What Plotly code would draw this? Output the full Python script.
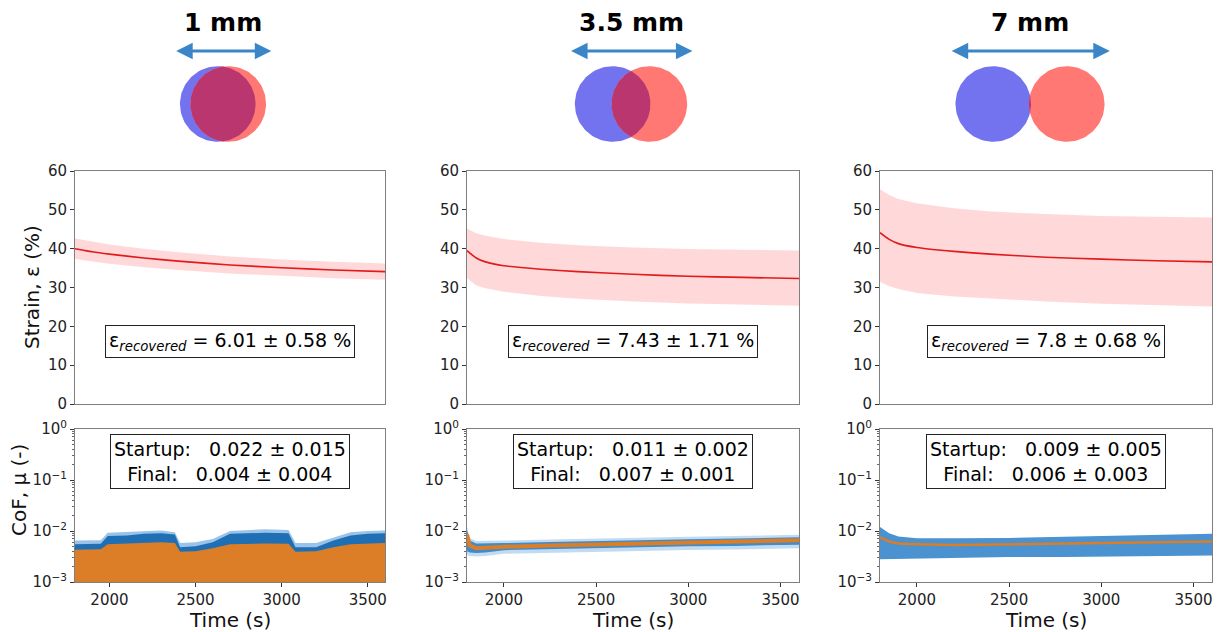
import numpy as np
import plotly.graph_objects as go

W, H = 1217, 632

# ---------------- data ----------------
gaps_mm = [1.0, 3.5, 7.0]
gap_labels = ["1 mm", "3.5 mm", "7 mm"]
recovered_text = ["6.01 ± 0.58 %", "7.43 ± 1.71 %", "7.8 ± 0.68 %"]
startup_text = ["0.022 ± 0.015", "0.011 ± 0.002", "0.009 ± 0.005"]
final_text = ["0.004 ± 0.004", "0.007 ± 0.001", "0.006 ± 0.003"]

strain_time = [1800, 1850, 1900, 2000, 2200, 2400, 2700, 3000, 3300, 3600]
strain_mean_1 = [40.0, 39.6, 39.2, 38.6, 37.6, 36.8, 35.8, 35.1, 34.5, 34.1]
strain_upper_1 = [42.6, 42.2, 41.8, 41.1, 40.0, 39.1, 38.0, 37.2, 36.6, 36.2]
strain_lower_1 = [37.4, 37.0, 36.6, 36.1, 35.2, 34.5, 33.6, 33.0, 32.4, 32.0]
strain_mean_2 = [39.5, 37.6, 36.6, 35.6, 34.7, 34.1, 33.4, 32.9, 32.6, 32.3]
strain_upper_2 = [45.2, 44.0, 43.3, 42.5, 41.5, 40.9, 40.3, 39.9, 39.7, 39.5]
strain_lower_2 = [32.4, 30.5, 29.8, 28.9, 27.8, 27.1, 26.4, 25.9, 25.6, 25.3]
strain_mean_3 = [44.1, 42.4, 41.3, 40.3, 39.3, 38.6, 37.8, 37.3, 36.9, 36.6]
strain_upper_3 = [55.3, 53.8, 52.8, 51.7, 50.4, 49.6, 48.9, 48.4, 48.2, 48.0]
strain_lower_3 = [31.5, 30.3, 29.6, 28.6, 27.7, 27.1, 26.4, 25.8, 25.4, 25.1]

# CoF panel 1: envelopes of the raw (blue) and filtered (orange) signals
cof1_time = [1800, 1950, 1990, 2100, 2200, 2300, 2380, 2410, 2500, 2600, 2700,
             2800, 2900, 3040, 3080, 3200, 3300, 3400, 3500, 3600]
cof1_halo_top = [0.0065, 0.0066, 0.0092, 0.0095, 0.0100, 0.0102, 0.0095, 0.0058, 0.0060, 0.0070,
                 0.0100, 0.0105, 0.0108, 0.0105, 0.0058, 0.0058, 0.0075, 0.0095, 0.0100, 0.0102]
cof1_blue_top = [0.0055, 0.0056, 0.0080, 0.0082, 0.0088, 0.0090, 0.0085, 0.0048, 0.0050, 0.0060,
                 0.0088, 0.0090, 0.0092, 0.0090, 0.0048, 0.0048, 0.0065, 0.0082, 0.0088, 0.0090]
cof1_orange_top = [0.0043, 0.0044, 0.0055, 0.0057, 0.0060, 0.0060, 0.0058, 0.0039, 0.0040, 0.0046,
                   0.0055, 0.0056, 0.0057, 0.0056, 0.0039, 0.0040, 0.0048, 0.0055, 0.0057, 0.0058]
cof1_floor = [0.0008] * len(cof1_time)

# CoF panel 2
cof2_time = [1800, 1815, 1850, 1900, 2000, 2250, 2500, 2750, 3000, 3250, 3500, 3600]
cof2_mean = [0.0085, 0.0052, 0.0046, 0.0047, 0.0049, 0.0052, 0.0054, 0.0057, 0.0059, 0.0062, 0.0065, 0.0066]
cof2_upper = [0.0105, 0.0065, 0.0057, 0.0057, 0.0058, 0.0061, 0.0064, 0.0066, 0.0069, 0.0071, 0.0074, 0.0075]
cof2_lower = [0.0040, 0.0038, 0.0037, 0.0038, 0.0042, 0.0044, 0.0046, 0.0048, 0.0050, 0.0051, 0.0053, 0.0054]

# CoF panel 3
cof3_time = [1800, 1850, 1900, 2000, 2200, 2500, 2800, 3000, 3300, 3600]
cof3_mean = [0.0075, 0.0062, 0.0057, 0.0055, 0.0053, 0.0055, 0.0057, 0.0058, 0.0060, 0.0062]
cof3_upper = [0.0120, 0.0090, 0.0078, 0.0072, 0.0072, 0.0073, 0.0077, 0.0080, 0.0084, 0.0088]
cof3_lower = [0.0028, 0.0028, 0.0029, 0.0029, 0.0030, 0.0031, 0.0031, 0.0032, 0.0032, 0.0033]

x_ticks = [2000, 2500, 3000, 3500]
cof_tickvals = [1e-3, 1e-2, 1e-1, 1]
cof_ticktext = ["10<sup>−3</sup>", "10<sup>−2</sup>", "10<sup>−1</sup>", "10<sup>0</sup>"]

# ---------------- styling / layout ----------------
FONT = "DejaVu Sans"
RED = "#e31a1c"
BAND = "rgba(255,120,120,0.28)"
BLUE_C = "#7373f0"
RED_C = "#ff7873"
OVER_C = "#b9376e"
ARROW_C = "#3a86c8"

def px_x(p):
    return p / W

def px_y(p):
    return 1 - p / H

panel_x = [(75, 385), (467, 799), (880, 1212)]
strain_y = (404, 171)
cof_y = (582, 429)

ill_center = [223, 631, 1030]
S = 10.5            # px per mm in the illustrations
R = 3.6             # circle radius (mm)
ILL_HALF = 110
ILL_CY = 104

fig = go.Figure()

def band(x, up, lo, color, xa, ya):
    fig.add_trace(go.Scatter(x=list(x) + list(x)[::-1], y=list(up) + list(lo)[::-1],
                             fill="toself", fillcolor=color, line=dict(width=0),
                             mode="lines", hoverinfo="skip", showlegend=False,
                             xaxis=xa, yaxis=ya))

strain_sets = [(strain_mean_1, strain_upper_1, strain_lower_1),
               (strain_mean_2, strain_upper_2, strain_lower_2),
               (strain_mean_3, strain_upper_3, strain_lower_3)]

for k, (m, u, l) in enumerate(strain_sets):
    xa, ya = f"x{k+1}", f"y{k+1}"
    band(strain_time, u, l, BAND, xa, ya)
    fig.add_trace(go.Scatter(x=strain_time, y=m, mode="lines",
                             line=dict(color=RED, width=1.6, shape="spline", smoothing=0.6),
                             showlegend=False, xaxis=xa, yaxis=ya))

# CoF panel 1
band(cof1_time, cof1_halo_top, cof1_floor, "rgba(120,175,225,0.75)", "x4", "y4")
band(cof1_time, cof1_blue_top, cof1_floor, "#1f6fb4", "x4", "y4")
band(cof1_time, cof1_orange_top, cof1_floor, "#dc7d28", "x4", "y4")

# CoF panel 2
band(cof2_time, [v * 1.12 for v in cof2_upper], [v * 0.85 for v in cof2_lower],
     "rgba(120,175,225,0.45)", "x5", "y5")
band(cof2_time, cof2_upper, cof2_lower, "#3d8ccc", "x5", "y5")
fig.add_trace(go.Scatter(x=cof2_time, y=cof2_mean, mode="lines", line=dict(color="#dc7d28", width=4),
                         showlegend=False, xaxis="x5", yaxis="y5"))

# CoF panel 3
band(cof3_time, cof3_upper, cof3_lower, "#4a93d0", "x6", "y6")
fig.add_trace(go.Scatter(x=cof3_time, y=cof3_mean, mode="lines", line=dict(color="#dc7d28", width=2.5),
                         showlegend=False, xaxis="x6", yaxis="y6"))

# illustrations
th = np.linspace(0, 2 * np.pi, 121)
for k, d in enumerate(gaps_mm):
    xa, ya = f"x{k+7}", f"y{k+7}"
    for cx, col in [(-d / 2, BLUE_C), (d / 2, RED_C)]:
        fig.add_trace(go.Scatter(x=cx + R * np.cos(th), y=R * np.sin(th), fill="toself",
                                 fillcolor=col, line=dict(width=0), mode="lines",
                                 hoverinfo="skip", showlegend=False, xaxis=xa, yaxis=ya))
    if d < 2 * R:
        a = np.arccos(d / (2 * R))
        t1 = np.linspace(-a, a, 60)
        t2 = np.linspace(np.pi - a, np.pi + a, 60)
        lx = np.concatenate([-d / 2 + R * np.cos(t1), d / 2 + R * np.cos(t2)])
        ly = np.concatenate([R * np.sin(t1), R * np.sin(t2)])
        fig.add_trace(go.Scatter(x=lx, y=ly, fill="toself", fillcolor=OVER_C, line=dict(width=0),
                                 mode="lines", hoverinfo="skip", showlegend=False, xaxis=xa, yaxis=ya))

layout = dict(width=W, height=H, autosize=False, margin=dict(l=0, r=0, t=0, b=0, pad=0),
              paper_bgcolor="white", plot_bgcolor="white", showlegend=False,
              font=dict(family=FONT, color="#222", size=15))

axis_common = dict(showline=True, linecolor="#7f7f7f", linewidth=1, mirror=True, automargin=False,
                   showgrid=False, zeroline=False, ticks="outside", ticklen=4,
                   tickcolor="#333", tickfont=dict(family=FONT, size=15, color="#222"))

for k in range(3):
    x0, x1 = panel_x[k]
    # strain
    layout[f"xaxis{k+1}"] = dict(axis_common, domain=[px_x(x0), px_x(x1)], range=[1800, 3600],
                                 showticklabels=False, ticks="", anchor=f"y{k+1}")
    layout[f"yaxis{k+1}"] = dict(axis_common, domain=[px_y(strain_y[0]), px_y(strain_y[1])],
                                 range=[0, 60], dtick=10, anchor=f"x{k+1}")
    # cof
    layout[f"xaxis{k+4}"] = dict(axis_common, domain=[px_x(x0), px_x(x1)], range=[1800, 3600],
                                 tickvals=x_ticks, anchor=f"y{k+4}")
    layout[f"yaxis{k+4}"] = dict(axis_common, domain=[px_y(cof_y[0]), px_y(cof_y[1])],
                                 type="log", range=[-3, 0], tickvals=cof_tickvals,
                                 ticktext=cof_ticktext, anchor=f"x{k+4}",
                                 minor=dict(dtick="D1", ticks="outside", ticklen=2,
                                            tickcolor="#666", showgrid=False))
    # illustration
    c = ill_center[k]
    layout[f"xaxis{k+7}"] = dict(domain=[px_x(c - ILL_HALF), px_x(c + ILL_HALF)], automargin=False,
                                 range=[-ILL_HALF / S, ILL_HALF / S], visible=False, anchor=f"y{k+7}")
    layout[f"yaxis{k+7}"] = dict(domain=[px_y(160), 1], range=[(ILL_CY - 160) / S, ILL_CY / S],
                                 automargin=False, visible=False, anchor=f"x{k+7}")

fig.update_layout(**layout)

ann = []
for k in range(3):
    d = gaps_mm[k]
    half = (d + 2 * R) / 2 + 0.5
    ay = (ILL_CY - 51) / S
    ann.append(dict(xref=f"x{k+7}", yref=f"y{k+7}", axref=f"x{k+7}", ayref=f"y{k+7}",
                    x=half, y=ay, ax=-half, ay=ay, text="", showarrow=True,
                    arrowside="end+start", arrowhead=2, arrowsize=1.1, arrowwidth=3,
                    arrowcolor=ARROW_C))
    ann.append(dict(xref=f"x{k+7}", yref=f"y{k+7}", x=0, y=(ILL_CY - 22) / S,
                    text=f"<b>{gap_labels[k]}</b>", showarrow=False,
                    xanchor="center", yanchor="middle",
                    font=dict(family=FONT, size=25, color="black")))
    ann.append(dict(xref=f"x{k+1}", yref=f"y{k+1}", x=2700, y=16,
                    text=f"ε<sub><i>recovered</i></sub> = {recovered_text[k]}", showarrow=False,
                    xanchor="center", yanchor="middle",
                    font=dict(family=FONT, size=19, color="black"), bgcolor="white",
                    bordercolor="#222", borderwidth=1, borderpad=3))
    nb = "\u00a0"
    ann.append(dict(xref=f"x{k+4}", yref=f"y{k+4}", x=2700, y=-0.647,
                    text=f"Startup:{nb*3}{startup_text[k]}<br>Final:{nb*3}{final_text[k]}",
                    showarrow=False, align="center", xanchor="center", yanchor="middle",
                    font=dict(family=FONT, size=19, color="black"), bgcolor="white",
                    bordercolor="#222", borderwidth=1, borderpad=3))
    ann.append(dict(xref=f"x{k+4} domain", yref="paper", x=0.5, y=px_y(620),
                    xanchor="center", yanchor="middle",
                    text="Time (s)", showarrow=False, font=dict(family=FONT, size=20, color="#111")))

ann.append(dict(xref="paper", yref="paper", x=px_x(32), y=px_y(287), text="Strain, ε (%)",
                xanchor="center", yanchor="middle",
                textangle=-90, showarrow=False, font=dict(family=FONT, size=20, color="#111")))
ann.append(dict(xref="paper", yref="paper", x=px_x(19), y=px_y(490), text="CoF, μ (-)",
                xanchor="center", yanchor="middle",
                textangle=-90, showarrow=False, font=dict(family=FONT, size=20, color="#111")))

fig.update_layout(annotations=ann)
fig.write_html("out.html", config={"displayModeBar": False},
               post_script="document.body.style.margin='0';document.body.style.overflow='hidden';")
